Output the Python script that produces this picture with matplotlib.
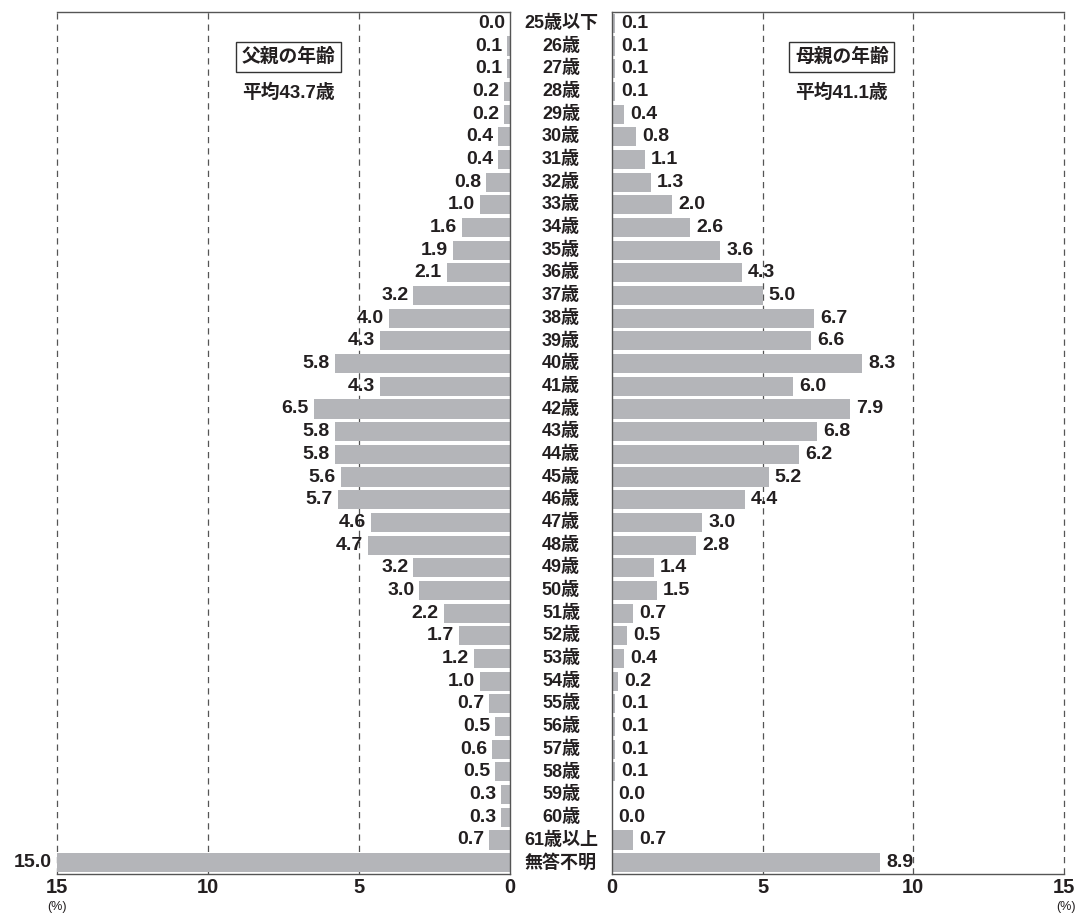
import numpy as np
import matplotlib
matplotlib.use('Agg')
import matplotlib.pyplot as plt

# digits in Liberation Sans, kanji falls back to Noto Sans CJK JP
plt.rcParams['font.family'] = ['Liberation Sans', 'Noto Sans CJK JP', 'DejaVu Sans']

## data
ages = ['25歳以下'] + [f'{a}歳' for a in range(26, 61)] + ['61歳以上', '無答不明']
father = [0.0, 0.1, 0.1, 0.2, 0.2, 0.4, 0.4, 0.8, 1.0, 1.6, 1.9, 2.1, 3.2, 4.0, 4.3, 5.8,
          4.3, 6.5, 5.8, 5.8, 5.6, 5.7, 4.6, 4.7, 3.2, 3.0, 2.2, 1.7, 1.2, 1.0, 0.7, 0.5,
          0.6, 0.5, 0.3, 0.3, 0.7, 15.0]
mother = [0.1, 0.1, 0.1, 0.1, 0.4, 0.8, 1.1, 1.3, 2.0, 2.6, 3.6, 4.3, 5.0, 6.7, 6.6, 8.3,
          6.0, 7.9, 6.8, 6.2, 5.2, 4.4, 3.0, 2.8, 1.4, 1.5, 0.7, 0.5, 0.4, 0.2, 0.1, 0.1,
          0.1, 0.1, 0.0, 0.0, 0.7, 8.9]
ticks = [0, 5, 10, 15]

bar_color = '#b4b5b9'
line_color = '#555555'
txt_color = '#231f20'
fs = 14

fig = plt.figure(figsize=(10.84, 9.14), dpi=100)
ax_l = fig.add_axes([57 / 1084, 40 / 914, 453 / 1084, 862 / 914])
ax_r = fig.add_axes([612 / 1084, 40 / 914, 452 / 1084, 862 / 914])

y = np.arange(len(ages))

for ax, vals, side in [(ax_l, father, 'left'), (ax_r, mother, 'right')]:
    ax.barh(y, vals, height=0.84, color=bar_color, zorder=2)
    ax.set_xlim(0, 15)
    ax.set_ylim(len(ages) - 0.5, -0.5)
    for g in [5, 10, 15]:
        ax.axvline(g, color=line_color, lw=0.9, ls=(0, (5, 4)), zorder=1, clip_on=False)
    ax.set_yticks([])
    ax.set_xticks(ticks)
    ax.tick_params(axis='x', length=0, pad=3, labelsize=14.5, labelcolor=txt_color)
    for lab in ax.get_xticklabels():
        lab.set_fontweight('bold')
    for sp in ax.spines.values():
        sp.set_color(line_color)
        sp.set_linewidth(1.0)
    for i, v in enumerate(vals):
        if side == 'left':
            ax.text(v + 0.16, i, f'{v:.1f}', ha='right', va='center', fontsize=fs,
                    fontweight='bold', color=txt_color)
        else:
            ax.text(v + 0.2, i, f'{v:.1f}', ha='left', va='center', fontsize=fs,
                    fontweight='bold', color=txt_color)

ax_l.invert_xaxis()
ax_l.spines['left'].set_visible(False)
ax_r.spines['right'].set_visible(False)

# age labels in the middle
for i, a in enumerate(ages):
    fig.text(561 / 1084, ax_l.transData.transform((0, i))[1] / fig.bbox.height, a,
             ha='center', va='center', fontsize=13, fontweight='bold', color=txt_color)

# (%) marks
fig.text(57 / 1084, 1 / 914, '(%)', ha='center', va='bottom', fontsize=9, color=txt_color)
fig.text(1066 / 1084, 1 / 914, '(%)', ha='center', va='bottom', fontsize=9, color=txt_color)

# panel titles
box = dict(boxstyle='square,pad=0.3', fc='white', ec='#333333', lw=1.0)
ax_l.text(7.35, 1.48, '父親の年齢', ha='center', va='center', fontsize=13.5, fontweight='bold',
          color=txt_color, bbox=box, zorder=3)
ax_l.text(7.35, 3.07, '平均43.7歳', ha='center', va='center', fontsize=13.5, fontweight='bold',
          color=txt_color)
ax_r.text(7.63, 1.48, '母親の年齢', ha='center', va='center', fontsize=13.5, fontweight='bold',
          color=txt_color, bbox=box, zorder=3)
ax_r.text(7.63, 3.07, '平均41.1歳', ha='center', va='center', fontsize=13.5, fontweight='bold',
          color=txt_color)

fig.savefig('out.png', dpi=100)
